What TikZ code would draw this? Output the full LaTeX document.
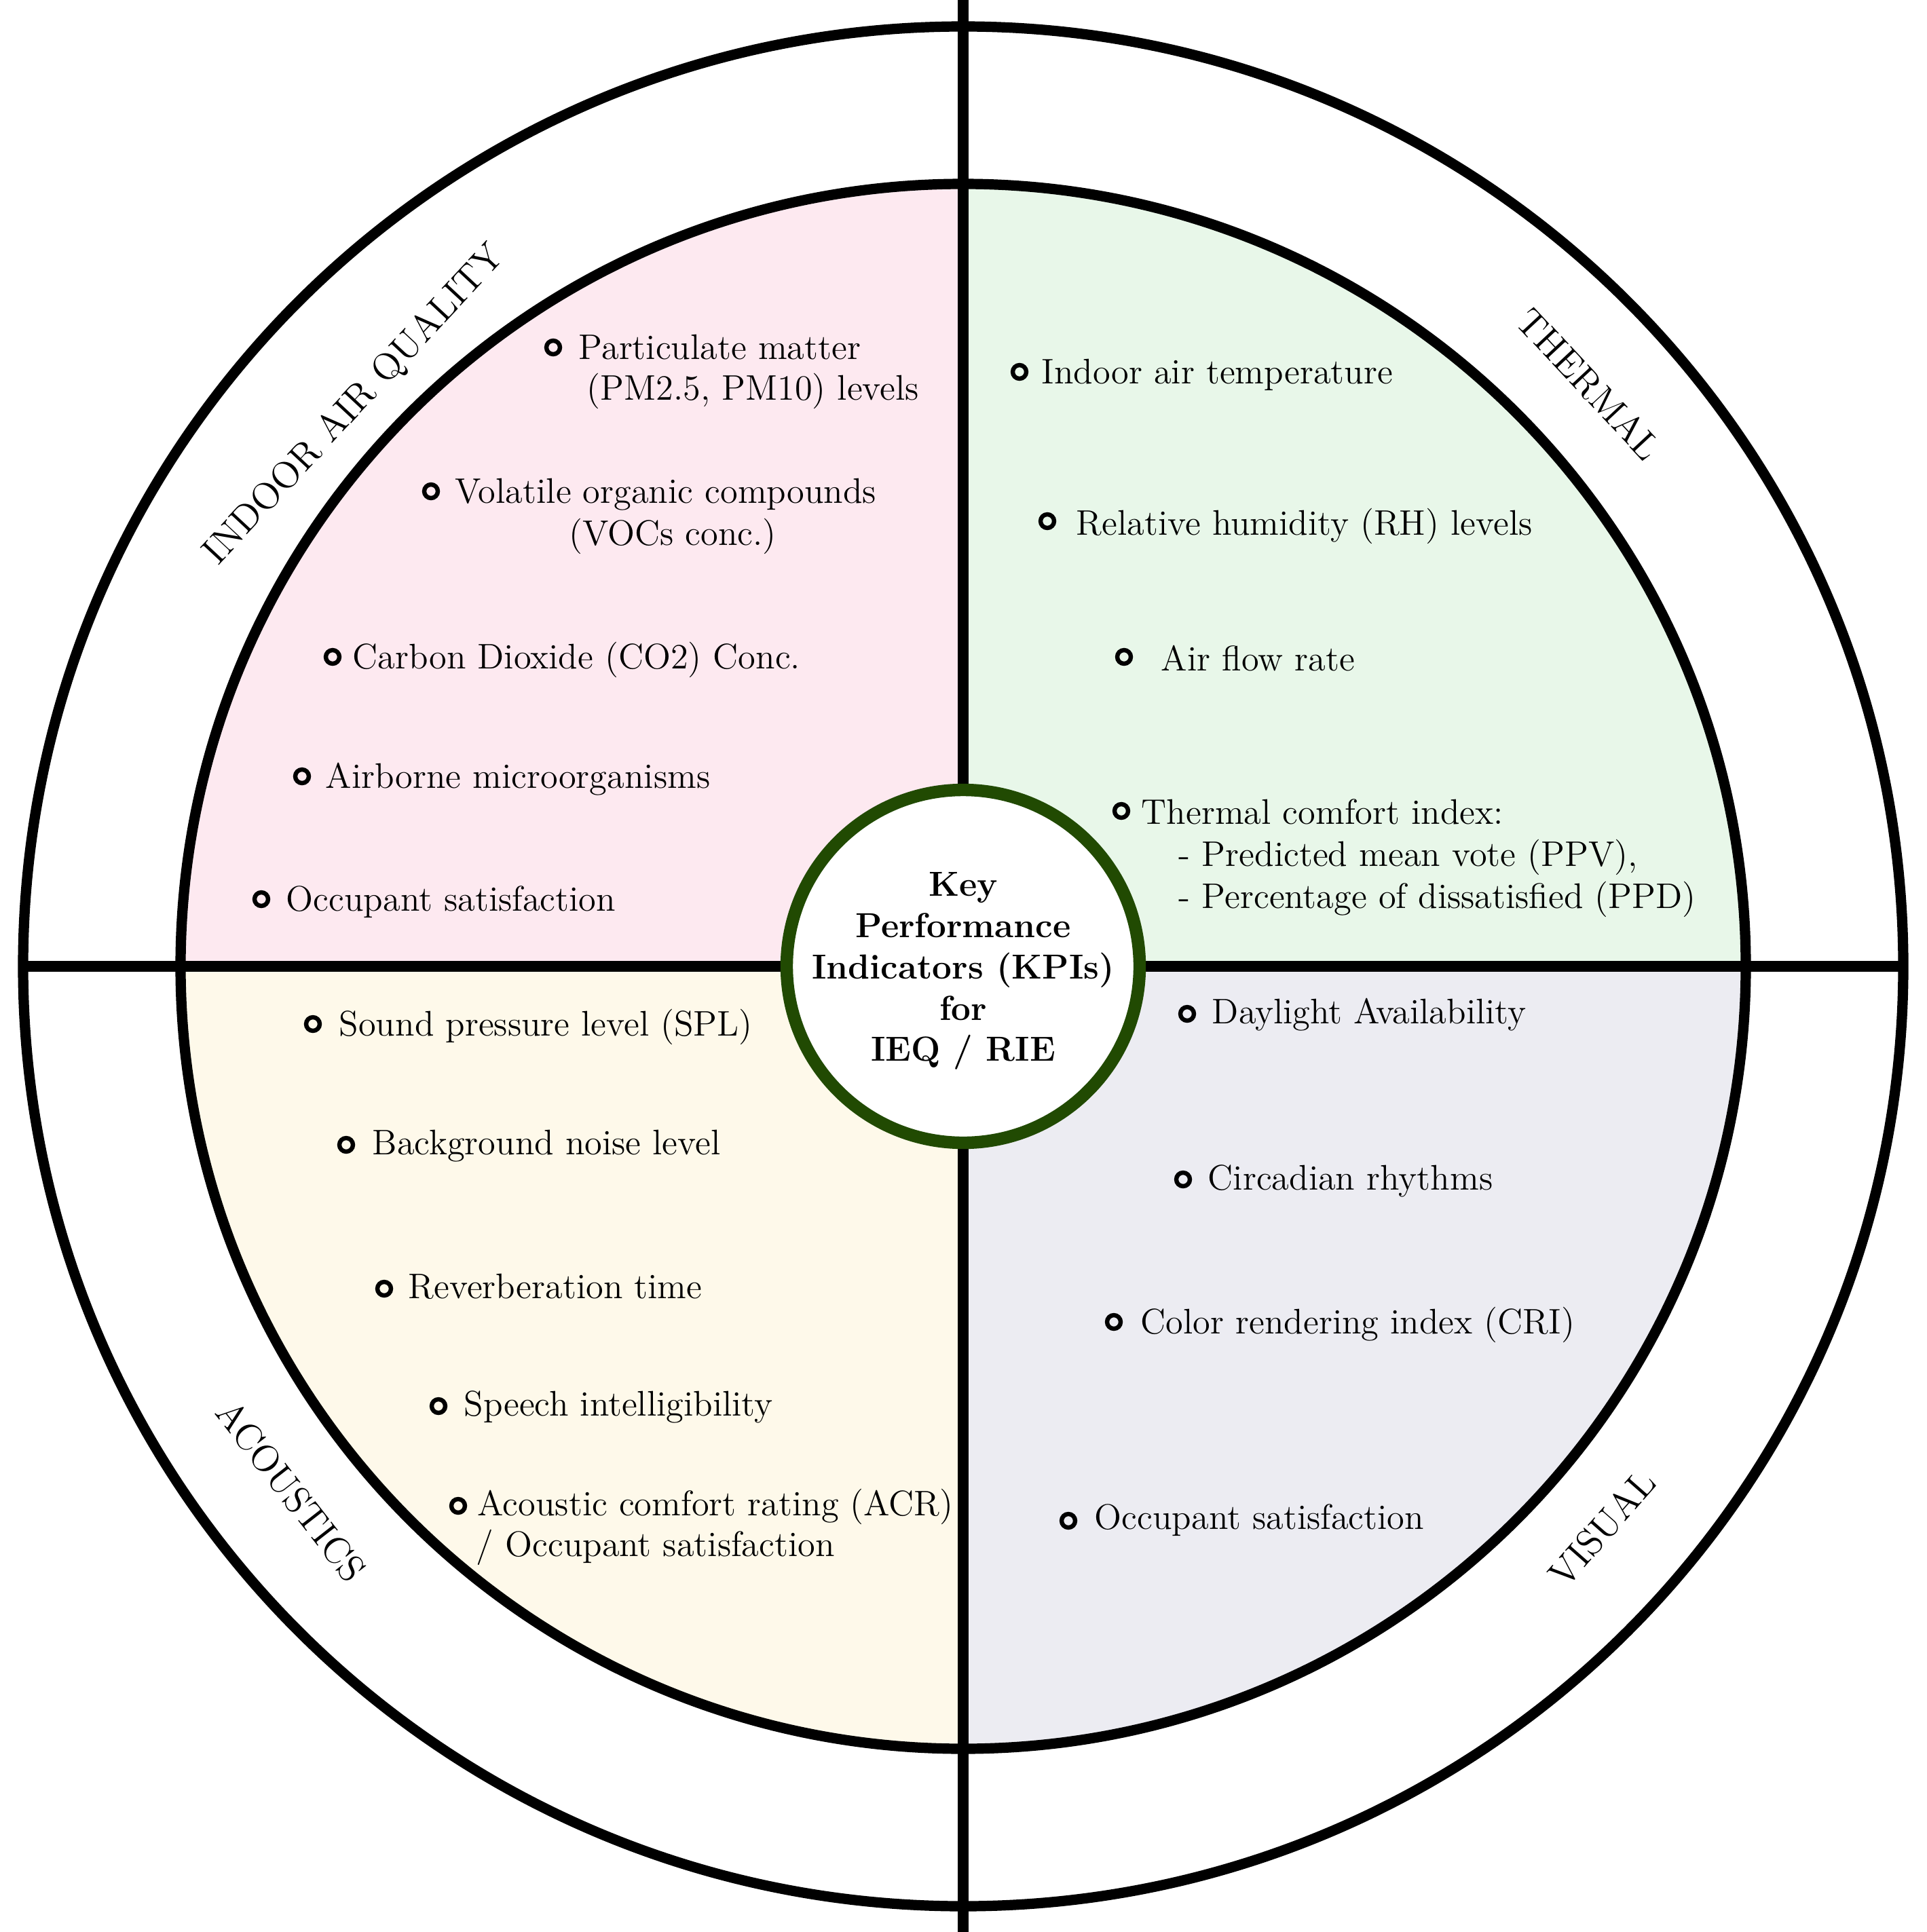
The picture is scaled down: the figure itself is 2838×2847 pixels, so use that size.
\documentclass[tikz,border=0pt]{standalone}
\definecolor{iaqpink}{RGB}{253,233,240}
\definecolor{thgreen}{RGB}{232,247,233}
\definecolor{acyellow}{RGB}{254,249,234}
\definecolor{visgrey}{RGB}{236,236,242}
\definecolor{kpigreen}{RGB}{33,74,2}
\begin{document}
\begin{tikzpicture}[x=0.25pt,y=0.25pt,
  ring/.style={line width=3.8pt},
  bul/.style={circle,draw,line width=1.6pt,inner sep=0pt,minimum size=5pt},
  item/.style={anchor=mid west,inner sep=0pt,yshift=-2.1pt,font=\fontsize{13.1}{15.3}\selectfont},
  itemc/.style={anchor=mid,inner sep=0pt,yshift=-2.1pt,font=\fontsize{13.1}{15.3}\selectfont},
  lab/.style={inner sep=0pt,font=\fontsize{13.9}{16}\selectfont},
  kpiring/.style={circle,draw=kpigreen,line width=4.6pt,fill=white,inner sep=0pt,minimum size=130pt},
  kpitext/.style={align=center,inner sep=0pt,yshift=-1.8pt,font=\fontsize{12.8}{15.2}\selectfont\bfseries}]
\useasboundingbox (0,0) rectangle (2838,-2847);
\fill[white] (0,0) rectangle (2838,-2847);
\coordinate (C) at (1419,-1424);
% quadrant fills
\fill[iaqpink] (C) -- ++(0,1153) arc[start angle=90,end angle=180,radius=1153] -- cycle;
\fill[thgreen] (C) -- ++(1153,0) arc[start angle=0,end angle=90,radius=1153] -- cycle;
\fill[acyellow] (C) -- ++(-1153,0) arc[start angle=180,end angle=270,radius=1153] -- cycle;
\fill[visgrey] (C) -- ++(0,-1153) arc[start angle=270,end angle=360,radius=1153] -- cycle;
% rings and dividers
\draw[ring] (C) circle[radius=1385];
\draw[ring] (C) circle[radius=1153];
\coordinate (vt) at (1419,0);
\coordinate (vb) at (1419,-2847);
\coordinate (hl) at (34,-1424);
\coordinate (hr) at (2804,-1424);
\draw[ring] (vt) -- (vb);
\draw[ring] (hl) -- (hr);
% centre
\node[kpiring] (kpi) at (C) {};
\node[kpitext] (kpit) at (C) {Key\\Performance\\Indicators (KPIs)\\for\\IEQ / RIE};
% ring labels
\node[lab,rotate=47] (liaq) at (523,-597) {INDOOR AIR QUALITY};
\node[lab,rotate=-47] (lth) at (2341,-566) {THERMAL};
\node[lab,rotate=-52] (lac) at (429,-2197) {ACOUSTICS};
\node[lab,rotate=48.7] (lvis) at (2360,-2252) {VISUAL};
% IAQ items
\node[bul] (b11) at (815,-512) {};
\node[item] (t11) at (852,-512) {Particulate matter};
\node[item] (t11b) at (864,-572) {(PM2.5, PM10) levels};
\node[bul] (b12) at (635,-724) {};
\node[item] (t12) at (670,-724) {Volatile organic compounds};
\node[itemc] (t12b) at (991,-786) {(VOCs conc.)};
\node[bul] (b13) at (490,-968) {};
\node[item] (t13) at (519,-968) {Carbon Dioxide (CO2) Conc.};
\node[bul] (b14) at (445,-1144) {};
\node[item] (t14) at (479,-1144) {Airborne microorganisms};
\node[bul] (b15) at (385,-1325) {};
\node[item] (t15) at (421,-1325) {Occupant satisfaction};
% Thermal items
\node[bul] (b21) at (1502,-548) {};
\node[item] (t21) at (1534,-548) {Indoor air temperature};
\node[bul] (b22) at (1543,-768) {};
\node[item] (t22) at (1585,-771) {Relative humidity (RH) levels};
\node[bul] (b23) at (1656,-968) {};
\node[item] (t23) at (1710,-971) {Air flow rate};
\node[bul] (b24) at (1652,-1195) {};
\node[item] (t24) at (1681,-1197) {Thermal comfort index:};
\node[item] (t24b) at (1736,-1259) {- Predicted mean vote (PPV),};
\node[item] (t24c) at (1736,-1321) {- Percentage of dissatisfied (PPD)};
% Visual items
\node[bul] (b31) at (1749,-1494) {};
\node[item] (t31) at (1785,-1491) {Daylight Availability};
\node[bul] (b32) at (1743,-1738) {};
\node[item] (t32) at (1779,-1736) {Circadian rhythms};
\node[bul] (b33) at (1641,-1948) {};
\node[item] (t33) at (1680,-1948) {Color rendering index (CRI)};
\node[bul] (b34) at (1574,-2241) {};
\node[item] (t34) at (1612,-2236) {Occupant satisfaction};
% Acoustics items
\node[bul] (b41) at (461,-1509) {};
\node[item] (t41) at (499,-1509) {Sound pressure level (SPL)};
\node[bul] (b42) at (510,-1687) {};
\node[item] (t42) at (548,-1684) {Background noise level};
\node[bul] (b43) at (566,-1899) {};
\node[item] (t43) at (601,-1896) {Reverberation time};
\node[bul] (b44) at (646,-2072) {};
\node[item] (t44) at (683,-2069) {Speech intelligibility};
\node[bul] (b45) at (675,-2219) {};
\node[item] (t45) at (703,-2216) {Acoustic comfort rating (ACR)};
\node[item] (t45b) at (701,-2276) {/ Occupant satisfaction};
\end{tikzpicture}
\end{document}
